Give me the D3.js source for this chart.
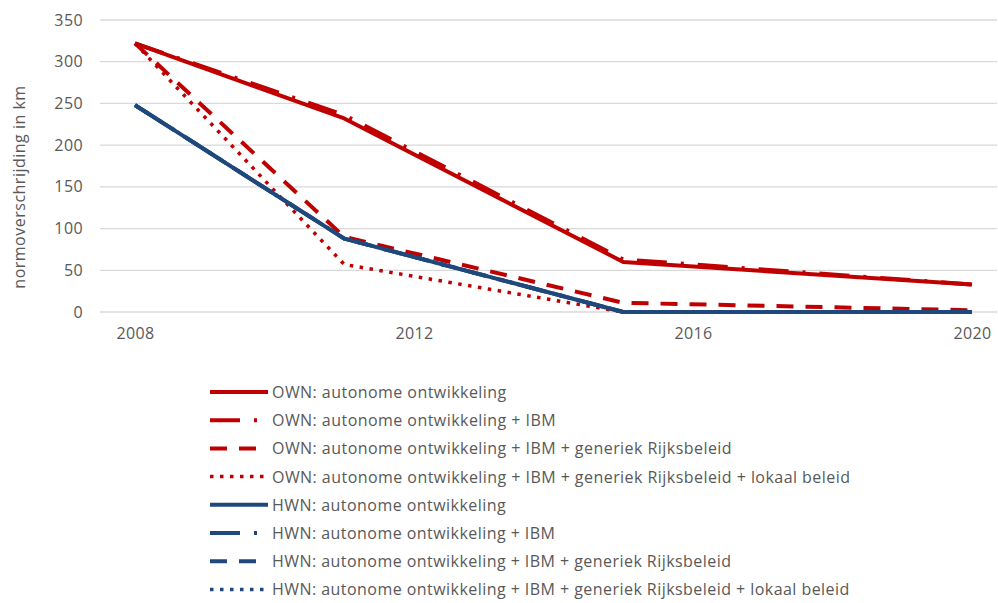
<!DOCTYPE html>
<html>
<head>
<meta charset="utf-8">
<script src="https://cdn.jsdelivr.net/npm/d3@7"></script>
<style>
  body { margin: 0; background: #fff; }
  text { font-family: "Open Sans", sans-serif; fill: #595959; }
</style>
</head>
<body>
<svg id="grafiek" width="998" height="603"></svg>
<script>
// jaren met een meetpunt
var jaren = [2008, 2011, 2015, 2020];
var jaarTicks = [2008, 2012, 2016, 2020];
var yTicks = [0, 50, 100, 150, 200, 250, 300, 350];

// normoverschrijding in km per scenario
var ownAutonoom = [322, 232, 60, 33];
var ownIBM = [322, 236, 63, 33];
var ownGeneriek = [322, 90, 11, 2];
var ownLokaal = [322, 57, 0, 0];
var hwnAutonoom = [248, 88, 0, 0];
var hwnIBM = [248, 88, 0, 0];
var hwnGeneriek = [248, 88, 0, 0];
var hwnLokaal = [248, 88, 0, 0];

var namen = [
  "OWN: autonome ontwikkeling",
  "OWN: autonome ontwikkeling + IBM",
  "OWN: autonome ontwikkeling + IBM + generiek Rijksbeleid",
  "OWN: autonome ontwikkeling + IBM + generiek Rijksbeleid + lokaal beleid",
  "HWN: autonome ontwikkeling",
  "HWN: autonome ontwikkeling + IBM",
  "HWN: autonome ontwikkeling + IBM + generiek Rijksbeleid",
  "HWN: autonome ontwikkeling + IBM + generiek Rijksbeleid + lokaal beleid"
];

var rood = "#c00000", blauw = "#1f497d";
var reeksen = [
  {naam: namen[0], waarden: ownAutonoom, kleur: rood, streep: null, dikte: 4},
  {naam: namen[1], waarden: ownIBM, kleur: rood, streep: "30,14,3,14", dikte: 4},
  {naam: namen[2], waarden: ownGeneriek, kleur: rood, streep: "17,12", dikte: 4},
  {naam: namen[3], waarden: ownLokaal, kleur: rood, streep: "3.5,6.5", dikte: 3.5},
  {naam: namen[4], waarden: hwnAutonoom, kleur: blauw, streep: null, dikte: 4},
  {naam: namen[5], waarden: hwnIBM, kleur: blauw, streep: "30,14,3,14", dikte: 4},
  {naam: namen[6], waarden: hwnGeneriek, kleur: blauw, streep: "17,12", dikte: 4},
  {naam: namen[7], waarden: hwnLokaal, kleur: blauw, streep: "3.5,6.5", dikte: 3.5}
];

var svg = d3.select("#grafiek");

var x = d3.scaleLinear().domain([2008, 2020]).range([135, 972]);
var y = d3.scaleLinear().domain([0, 350]).range([312, 20]);

// rasterlijnen
svg.append("g")
  .selectAll("line")
  .data(yTicks)
  .enter().append("line")
    .attr("x1", 100).attr("x2", 997)
    .attr("y1", function(d) { return y(d); })
    .attr("y2", function(d) { return y(d); })
    .attr("stroke", "#d9d9d9")
    .attr("stroke-width", 1.3);

// Y as
var yAs = svg.append("g")
  .attr("transform", "translate(100,0)")
  .call(d3.axisLeft(y).tickValues(yTicks).tickSize(0).tickPadding(17));
yAs.select(".domain").remove();
yAs.selectAll("text").style("font-size", "16px").style("letter-spacing", "0.4px").attr("fill", "#595959");

// X as
var xAs = svg.append("g")
  .attr("transform", "translate(0,326)")
  .call(d3.axisBottom(x).tickValues(jaarTicks).tickFormat(d3.format("d")).tickSize(0).tickPadding(2));
xAs.select(".domain").remove();
xAs.selectAll("text").style("font-size", "16px").style("letter-spacing", "0.4px").attr("fill", "#595959");

svg.append("text")
  .attr("transform", "translate(25,187) rotate(-90)")
  .attr("text-anchor", "middle")
  .style("font-size", "16px")
  .style("letter-spacing", "0.5px")
  .text("normoverschrijding in km");

// lijnen
var lijn = d3.line()
  .x(function(d, i) { return x(jaren[i]); })
  .y(function(d) { return y(d); });

reeksen.forEach(function(r) {
  svg.append("path")
    .attr("d", lijn(r.waarden))
    .attr("fill", "none")
    .attr("stroke", r.kleur)
    .attr("stroke-width", r.dikte)
    .attr("stroke-linejoin", "round")
    .attr("stroke-dasharray", r.streep);
});

// legenda
var legenda = svg.append("g");
reeksen.forEach(function(r, i) {
  var ly = 392 + i * 28.2;
  legenda.append("line")
    .attr("x1", 210).attr("x2", 268)
    .attr("y1", ly).attr("y2", ly)
    .attr("stroke", r.kleur)
    .attr("stroke-width", r.dikte)
    .attr("stroke-dasharray", r.streep);
  legenda.append("text")
    .attr("x", 272)
    .attr("y", ly + 6)
    .style("font-size", "16px")
    .style("letter-spacing", "0.45px")
    .text(r.naam);
});
</script>
</body>
</html>
